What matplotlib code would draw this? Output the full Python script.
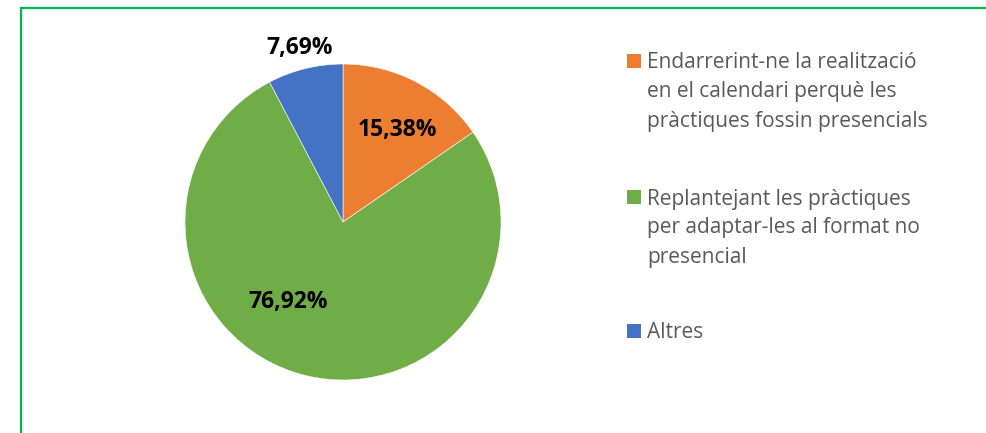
import matplotlib.pyplot as plt
from matplotlib.patches import Rectangle

plt.rcParams['font.family'] = ['Open Sans', 'DejaVu Sans']

labels = ["Endarrerint-ne la realització\nen el calendari perquè les\npràctiques fossin presencials",
          "Replantejant les pràctiques\nper adaptar-les al format no\npresencial",
          "Altres"]
values = [15.38, 76.92, 7.69]
colors = ['#ED7D31', '#70AD47', '#4472C4']

W, H = 987, 433
fig = plt.figure(figsize=(W / 100, H / 100), dpi=100)

# green frame (only top and left visible in the crop)
fig.patches.append(Rectangle((20.5 / W, -0.1), 1.2, 1.1 - 8 / H, transform=fig.transFigure,
                             fill=False, edgecolor='#00B84F', linewidth=1.6))

# pie axes: centre (343, 222) px, radius 158 px
cx, cy, r = 343, 222, 158
half = 170
ax = fig.add_axes([(cx - half) / W, (H - cy - half) / H, 2 * half / W, 2 * half / H])
wedges, _ = ax.pie(values, colors=colors, startangle=90, counterclock=False, radius=1,
                   wedgeprops=dict(edgecolor='white', linewidth=0.4))
ax.set_xlim(-half / r, half / r)
ax.set_ylim(-half / r, half / r)
ax.set_aspect('equal')
ax.axis('off')

# data-label positions (x, y in pie radius units)
label_pos = [(54 / r, 92 / r), (-55 / r, -80 / r), (-43 / r, 174 / r)]
for v, (lx, ly) in zip(values, label_pos):
    ax.text(lx, ly, f"{v:.2f}".replace('.', ',') + '%', ha='center', va='center',
            fontsize=16.5, fontweight='bold', color='black', clip_on=False)

# legend
entry_top = [63, 199, 333]
line_h = 29
for lab, col, y0 in zip(labels, colors, entry_top):
    fig.patches.append(Rectangle((627 / W, 1 - (y0 + 5) / H), 14 / W, 14 / H,
                                 transform=fig.transFigure, facecolor=col, edgecolor='none'))
    for k, line in enumerate(lab.split('\n')):
        fig.text(647 / W, 1 - (y0 + k * line_h) / H, line, ha='left', va='center',
                 fontsize=15, color='#595959')

fig.savefig('out.png', dpi=100)
